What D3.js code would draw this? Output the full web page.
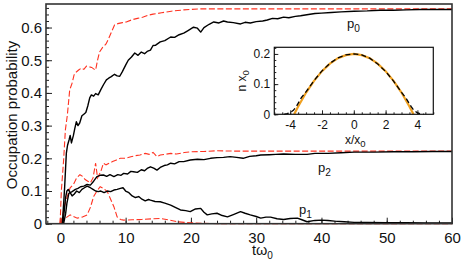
<!DOCTYPE html>
<html>
<head>
<meta charset="utf-8">
<script src="https://cdn.jsdelivr.net/npm/d3@7"></script>
<style>
  body { margin: 0; background: #fff; }
  text { font-family: "Liberation Sans", Arial, sans-serif; fill: #111; }
</style>
</head>
<body>
<div id="chart"></div>
<script>
// data: [t, probability]
var p0Black = [[0.3,0],[0.5,0.06],[0.66,0.113],[0.8,0.17],[0.92,0.216],[1.1,0.24],[1.33,0.256],[1.5,0.27],[1.7,0.247],[2.0,0.27],[2.2,0.29],[2.45,0.312],[2.7,0.3],[2.96,0.308],[3.3,0.33],[3.6,0.335],[3.9,0.34],[4.2,0.36],[4.5,0.385],[4.75,0.394],[5.1,0.39],[5.4,0.398],[5.8,0.394],[6.2,0.41],[6.6,0.425],[7.05,0.44],[7.4,0.445],[7.8,0.45],[8.3,0.457],[8.7,0.452],[9.1,0.451],[9.5,0.465],[10.0,0.485],[10.4,0.5],[10.9,0.51],[11.4,0.522],[11.9,0.515],[12.4,0.525],[12.9,0.52],[13.3,0.527],[13.8,0.531],[14.2,0.545],[14.6,0.546],[15.3,0.556],[16.0,0.56],[16.9,0.571],[17.5,0.57],[18.2,0.578],[18.9,0.583],[19.5,0.59],[20.4,0.601],[21.0,0.598],[21.5,0.586],[22.0,0.6],[22.8,0.61],[23.5,0.617],[24.3,0.614],[25.0,0.62],[25.6,0.617],[26.5,0.615],[27.6,0.611],[28.3,0.616],[29.1,0.614],[30,0.618],[31,0.62],[31.7,0.623],[32.5,0.628],[33.3,0.627],[34.2,0.632],[35,0.63],[36,0.634],[36.8,0.636],[38,0.64],[39,0.643],[40,0.644],[41.5,0.646],[43,0.648],[45,0.65],[47,0.651],[49,0.653],[51,0.653],[53,0.654],[55,0.655],[57,0.655],[60,0.655]];
var p0Red = [[-0.1,0],[0,0.02],[0.15,0.1],[0.5,0.195],[0.77,0.287],[1.07,0.332],[1.43,0.409],[1.8,0.43],[2.1,0.455],[2.45,0.464],[2.8,0.47],[3.2,0.476],[3.6,0.472],[4.0,0.482],[4.4,0.48],[4.8,0.478],[5.2,0.472],[5.4,0.47],[5.7,0.5],[6.0,0.525],[6.5,0.54],[7.0,0.55],[7.3,0.562],[7.8,0.585],[8.3,0.608],[8.8,0.612],[9.5,0.615],[10.1,0.617],[11,0.624],[11.8,0.628],[12.7,0.632],[13.5,0.638],[14.2,0.641],[15.5,0.645],[17,0.65],[18.9,0.654],[21.5,0.657],[25,0.657],[30,0.657],[40,0.657],[50,0.657],[60,0.657]];
var p2Black = [[0.5,0],[0.8,0.03],[1.0,0.062],[1.3,0.093],[1.8,0.098],[2.3,0.105],[2.7,0.108],[3.1,0.113],[3.6,0.115],[4.1,0.12],[4.6,0.118],[5.1,0.13],[5.6,0.144],[6.1,0.148],[6.6,0.149],[7.1,0.145],[7.6,0.15],[8.2,0.144],[8.8,0.15],[9.3,0.148],[9.7,0.154],[10.3,0.152],[10.8,0.16],[11.2,0.159],[11.8,0.157],[12.4,0.165],[12.9,0.162],[13.3,0.169],[13.8,0.174],[14.3,0.17],[14.8,0.164],[15.3,0.172],[15.9,0.178],[16.4,0.18],[16.9,0.185],[17.5,0.183],[18.2,0.19],[18.9,0.19],[19.9,0.195],[21,0.197],[22,0.196],[23,0.2],[24,0.202],[25,0.203],[26,0.205],[27,0.203],[28,0.2],[29,0.206],[30,0.208],[30.7,0.21],[32,0.211],[33,0.212],[34.2,0.213],[36,0.212],[37.8,0.212],[39,0.215],[41,0.215],[43,0.217],[45,0.219],[48,0.219],[51,0.22],[54,0.22],[57,0.221],[60,0.221]];
var p2Red = [[0,0],[0.3,0.02],[0.6,0.05],[1.0,0.08],[1.5,0.11],[2.0,0.12],[2.5,0.14],[3.0,0.15],[3.4,0.145],[3.8,0.135],[4.2,0.13],[4.6,0.125],[5.0,0.14],[5.4,0.185],[5.7,0.14],[6.2,0.16],[6.6,0.185],[7.0,0.18],[7.5,0.185],[8.0,0.19],[8.6,0.195],[9.2,0.2],[10,0.2],[10.8,0.205],[11.5,0.208],[12.2,0.21],[13,0.215],[13.6,0.212],[14.2,0.218],[14.8,0.205],[15.3,0.21],[16,0.212],[16.9,0.215],[17.8,0.213],[19,0.218],[20,0.22],[22,0.221],[24,0.223],[27,0.222],[30,0.222],[40,0.222],[50,0.222],[60,0.222]];
var p1Black = [[0.4,0],[0.6,0.04],[0.8,0.08],[1.0,0.1],[1.2,0.105],[1.5,0.095],[1.8,0.085],[2.1,0.09],[2.5,0.1],[2.9,0.095],[3.3,0.105],[3.7,0.11],[4.1,0.115],[4.6,0.11],[5.0,0.105],[5.4,0.1],[5.8,0.098],[6.2,0.1],[6.7,0.095],[7.2,0.1],[7.7,0.098],[8.2,0.103],[8.7,0.105],[9.2,0.108],[9.6,0.11],[10.0,0.1],[10.5,0.095],[11.0,0.085],[11.5,0.08],[12.0,0.083],[12.5,0.075],[13.0,0.07],[13.5,0.074],[13.8,0.072],[14.5,0.068],[15.3,0.067],[16.0,0.063],[16.9,0.057],[17.6,0.05],[18.4,0.042],[19.2,0.04],[19.9,0.037],[20.7,0.045],[21.5,0.047],[22.0,0.035],[22.5,0.027],[23.2,0.03],[24,0.032],[24.8,0.025],[25.6,0.021],[26.5,0.028],[27.6,0.037],[28.3,0.032],[29.1,0.027],[30,0.022],[30.7,0.017],[31.5,0.02],[32.2,0.02],[33.2,0.015],[34.2,0.013],[35.2,0.016],[36.3,0.017],[37,0.012],[37.8,0.006],[39,0.01],[40,0.011],[41,0.01],[42,0.008],[43.5,0.006],[45,0.004],[47,0.004],[50,0.003],[53,0.003],[56,0.002],[60,0.002]];
var p1Red = [[0,0],[0.4,0.01],[0.77,0.017],[1.5,0.027],[2.0,0.022],[2.6,0.017],[3.3,0.02],[4.1,0.027],[4.6,0.05],[5.1,0.083],[5.6,0.1],[6.1,0.113],[6.6,0.108],[7.2,0.098],[7.7,0.075],[8.2,0.052],[8.7,0.021],[9.2,0.013],[9.7,0.011],[11,0.012],[12.5,0.013],[14,0.015],[15.3,0.016],[16.5,0.012],[17.9,0.006],[19,0.004],[20,0.003],[22,0.001],[25,0],[60,0]];

// inset: density profile [x/x0, n x0]
var densFit = [[-3.75,0],[-3.5,0.026],[-3,0.072],[-2.5,0.111],[-2,0.143],[-1.5,0.168],[-1,0.186],[-0.5,0.196],[0,0.2],[0.5,0.196],[1,0.186],[1.5,0.168],[2,0.143],[2.5,0.111],[3,0.072],[3.5,0.026],[3.75,0]];
var densSim = [[-4.4,0],[-4.2,0.002],[-4.0,0.006],[-3.8,0.013],[-3.6,0.027],[-3.3,0.055],[-3,0.075],[-2.5,0.112],[-2,0.144],[-1.5,0.169],[-1,0.187],[-0.5,0.197],[0,0.2],[0.5,0.197],[1,0.186],[1.5,0.167],[2,0.142],[2.5,0.11],[3,0.073],[3.3,0.052],[3.6,0.026],[3.8,0.012],[4.0,0.005],[4.2,0.002],[4.4,0]];

var xTicks = [0, 10, 20, 30, 40, 50, 60];
var yTicks = [0, 0.1, 0.2, 0.3, 0.4, 0.5, 0.6];
var insetXTicks = [-4, -2, 0, 2, 4];
var insetYTicks = [0, 0.1, 0.2];

var svgWidth = 463, svgHeight = 265;
var svg = d3.select("#chart").append("svg")
    .attr("width", svgWidth)
    .attr("height", svgHeight);

var x = d3.scaleLinear().domain([-2.2, 60]).range([46, 452]);
var y = d3.scaleLinear().domain([0, 0.672]).range([223.7, 4]);

// minor + major ticks, pointing inward
function drawAxes(g, xs, ys, xMajor, yMajor, xMinorStep, yMinorStep, big, small, padX, padY, fontSize) {
    var xr = xs.range(), yr = ys.range();
    var xMinor = d3.range(Math.ceil(xs.domain()[0] / xMinorStep) * xMinorStep, xs.domain()[1] + 1e-9, xMinorStep);
    var yMinor = d3.range(0, ys.domain()[1] + 1e-9, yMinorStep);
    g.append("g").attr("transform", `translate(0,${yr[0]})`)
        .call(d3.axisBottom(xs).tickValues(xMinor).tickSize(-small).tickFormat(""))
        .call(a => a.select(".domain").remove());
    g.append("g").attr("transform", `translate(${xr[0]},0)`)
        .call(d3.axisLeft(ys).tickValues(yMinor).tickSize(-small).tickFormat(""))
        .call(a => a.select(".domain").remove());
    g.append("g").attr("transform", `translate(0,${yr[0]})`)
        .call(d3.axisBottom(xs).tickValues(xMajor).tickSize(-big).tickPadding(padX)
            .tickFormat(d => d < 0 ? "-" + Math.abs(d) : d))
        .call(a => a.select(".domain").remove());
    g.append("g").attr("transform", `translate(${xr[0]},0)`)
        .call(d3.axisLeft(ys).tickValues(yMajor).tickSize(-big).tickPadding(padY)
            .tickFormat(d => d === 0 ? "0" : d3.format(".1f")(d)))
        .call(a => a.select(".domain").remove());
    g.selectAll(".tick line").attr("stroke", "#222");
    g.selectAll(".tick text").attr("font-size", fontSize)
        .attr("font-family", "Liberation Sans, Arial, sans-serif").attr("fill", "#111");
}

var mainG = svg.append("g");
drawAxes(mainG, x, y, xTicks, yTicks, 2, 0.02, 6, 3, 9, 4, "15px");

var line = d3.line().x(d => x(d[0])).y(d => y(d[1]));
var curves = mainG.append("g");
[p0Red, p2Red, p1Red].forEach(function(s) {
    curves.append("path").datum(s).attr("d", line)
        .attr("fill", "none").attr("stroke", "#ff3322")
        .attr("stroke-width", 1.1).attr("stroke-dasharray", "6,2.5");
});
[p0Black, p2Black, p1Black].forEach(function(s) {
    curves.append("path").datum(s).attr("d", line)
        .attr("fill", "none").attr("stroke", "#000")
        .attr("stroke-width", 1.4).attr("stroke-linejoin", "round");
});

mainG.append("rect")
    .attr("x", x.range()[0]).attr("y", y.range()[1])
    .attr("width", x.range()[1] - x.range()[0]).attr("height", y.range()[0] - y.range()[1])
    .attr("fill", "none").attr("stroke", "#333").attr("stroke-width", 1.6);

// curve labels
function subLabel(g, px, py, base, sub, size) {
    var t = g.append("text").attr("x", px).attr("y", py).attr("font-size", size);
    t.append("tspan").text(base);
    t.append("tspan").attr("dy", size * 0.3).attr("font-size", size * 0.78).text(sub);
    return t;
}
subLabel(svg, 347, 28, "p", "0", 13);
subLabel(svg, 318, 172, "p", "2", 13);
subLabel(svg, 299, 214, "p", "1", 13);

// axis titles
svg.append("text")
    .attr("transform", "translate(17,115) rotate(-90)")
    .attr("text-anchor", "middle").attr("font-size", 15)
    .text("Occupation probability");
var xt = svg.append("text").attr("x", 252).attr("y", 254.5).attr("font-size", 14.5);
xt.append("tspan").text("tω");
xt.append("tspan").attr("dy", 4).attr("font-size", 10).text("0");

// inset
var ix = d3.scaleLinear().domain([-5, 5]).range([274.3, 433.3]);
var iy = d3.scaleLinear().domain([0, 0.222]).range([114.3, 47.3]);
var inset = svg.append("g");
inset.append("rect")
    .attr("x", ix.range()[0]).attr("y", iy.range()[1])
    .attr("width", ix.range()[1] - ix.range()[0]).attr("height", iy.range()[0] - iy.range()[1])
    .attr("fill", "#fff");
drawAxes(inset, ix, iy, insetXTicks, insetYTicks, 0.5, 0.02, 4, 2, 6, 4, "12px");

var iline = d3.line().x(d => ix(d[0])).y(d => iy(d[1]));
inset.append("path").datum(densFit).attr("d", iline)
    .attr("fill", "none").attr("stroke", "#f0a020").attr("stroke-width", 2.2);
inset.append("path").datum(densSim).attr("d", iline)
    .attr("fill", "none").attr("stroke", "#000").attr("stroke-width", 1.3)
    .attr("stroke-dasharray", "5,3");
inset.append("rect")
    .attr("x", ix.range()[0]).attr("y", iy.range()[1])
    .attr("width", ix.range()[1] - ix.range()[0]).attr("height", iy.range()[0] - iy.range()[1])
    .attr("fill", "none").attr("stroke", "#111").attr("stroke-width", 1.2);

var ixt = inset.append("text").attr("x", 345).attr("y", 144).attr("font-size", 12);
ixt.append("tspan").text("x/x");
ixt.append("tspan").attr("dy", 3).attr("font-size", 9.5).text("0");
var iyt = inset.append("text")
    .attr("transform", `translate(246,${(iy.range()[0] + iy.range()[1]) / 2}) rotate(-90)`)
    .attr("text-anchor", "middle").attr("font-size", 12);
iyt.append("tspan").text("n x");
iyt.append("tspan").attr("dy", 3).attr("font-size", 9.5).text("0");
</script>
</body>
</html>
